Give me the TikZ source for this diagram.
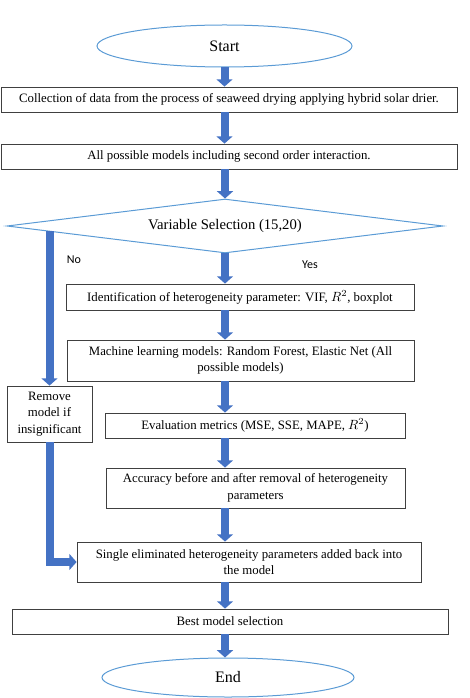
\documentclass[tikz,border=0pt]{standalone}
\usepackage{fontspec}
\setmainfont{Liberation Serif}
\newfontfamily\calibri{Carlito}
\usetikzlibrary{shapes.geometric,arrows.meta,calc}
\definecolor{arrowblue}{HTML}{4472C4}
\definecolor{lineblue}{HTML}{5B9BD5}
\begin{document}
\begin{tikzpicture}[x=0.75pt,y=-0.75pt,
  box/.style={draw=black!75,line width=0.6pt,inner sep=0pt,align=center,font=\fontsize{9.6}{12.5}\selectfont},
  term/.style={ellipse,draw=lineblue,line width=0.75pt,inner sep=0pt,font=\fontsize{12}{14}\selectfont},
  flow/.style={arrowblue,line width=6pt,-{Triangle[width=12pt,length=5.5pt]}},
  yesno/.style={font=\calibri\fontsize{9}{11}\selectfont}]
\useasboundingbox (0,0) rectangle (470,698);
\node[term,minimum width=191.25pt,minimum height=31.5pt] (start) at (224.5,46) {Start};
\node[box,minimum width=342pt,minimum height=18.75pt] (collect) at (229,99.5) {Collection of data from the process of seaweed drying applying hybrid solar drier.};
\node[box,minimum width=342pt,minimum height=18.75pt] (models) at (229,156.5) {All possible models including second order interaction.};
\node[diamond,aspect=8,draw=lineblue,line width=0.75pt,inner sep=0pt,minimum width=327pt,minimum height=40.5pt,font=\fontsize{11}{13}\selectfont] (select) at (225,226) {Variable Selection (15,20)};
\node[box,minimum width=261pt,minimum height=19.5pt] (ident) at (240,297) {Identification of heterogeneity parameter: VIF, $R^2$, boxplot};
\node[box,minimum width=260.25pt,minimum height=30.75pt] (ml) at (240.5,360.5) {Machine learning models: Random Forest, Elastic Net (All\\possible models)};
\node[box,minimum width=225pt,minimum height=18.75pt] (eval) at (255,425.5) {Evaluation metrics (MSE, SSE, MAPE, $R^2$)};
\node[box,minimum width=224.25pt,minimum height=30pt] (acc) at (255.5,488) {Accuracy before and after removal of heterogeneity\\parameters};
\node[box,minimum width=258pt,minimum height=30pt] (single) at (249,562) {Single eliminated heterogeneity parameters added back into\\the model};
\node[box,minimum width=327pt,minimum height=18.75pt] (best) at (230,621.5) {Best model selection};
\node[term,minimum width=189pt,minimum height=29.25pt] (end) at (228,677.5) {End};
\node[box,minimum width=63.75pt,minimum height=42pt] (remove) at (49.5,414) {Remove\\model if\\insignificant};
\node[yesno] (nolbl) at (74,260) {No};
\node[yesno] (yeslbl) at (310,265) {Yes};
\draw[flow] (start.south) -- (start.south |- collect.north);
\draw[flow] (collect.south -| start) -- (start |- models.north);
\draw[flow] (models.south -| select) -- (select.north);
\draw[flow] (select.south) -- (select.south |- ident.north);
\draw[flow] (ident.south -| select) -- (select |- ml.north);
\draw[flow] (ml.south -| select) -- (select |- eval.north);
\draw[flow] (eval.south -| select) -- (select |- acc.north);
\draw[flow] (acc.south -| select) -- (select |- single.north);
\draw[flow] (single.south -| select) -- (select |- best.north);
\draw[flow] (best.south -| select) -- (select |- end.north);
\coordinate (nofrom) at ($(select.west)!0.19!(select.south)$);
\draw[flow] (remove.north |- nofrom) -- (remove.north);
\draw[flow] (remove.south) |- (single.west);
\end{tikzpicture}
\end{document}
